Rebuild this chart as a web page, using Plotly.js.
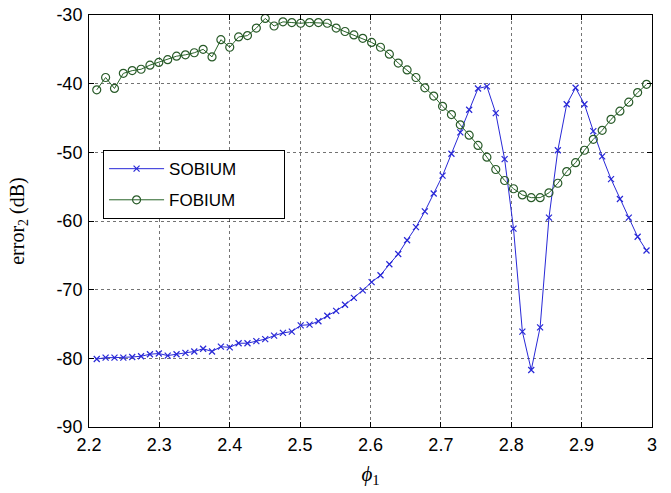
<!DOCTYPE html>
<html>
<head>
<meta charset="utf-8">
<script src="https://cdn.plot.ly/plotly-3.0.1.min.js"></script>
<style>html,body{margin:0;padding:0;background:#fff;}#chart{width:671px;height:493px;}</style>
</head>
<body>
<div id="chart"></div>
<script>
const phi = [2.2110,2.2236,2.2362,2.2488,2.2614,2.2740,2.2866,2.2992,2.3118,2.3244,
  2.3370,2.3496,2.3622,2.3748,2.3874,2.4000,2.4126,2.4252,2.4378,2.4504,
  2.4630,2.4756,2.4882,2.5008,2.5134,2.5260,2.5386,2.5512,2.5638,2.5764,
  2.5890,2.6016,2.6142,2.6268,2.6394,2.6520,2.6646,2.6772,2.6898,2.7024,
  2.7150,2.7276,2.7402,2.7528,2.7654,2.7780,2.7906,2.8032,2.8158,2.8284,
  2.8410,2.8536,2.8662,2.8788,2.8914,2.9040,2.9166,2.9292,2.9418,2.9544,
  2.9670,2.9796,2.9922];

const sobium = [-80.1,-79.9,-79.9,-79.9,-79.8,-79.7,-79.4,-79.3,-79.6,-79.4,
  -79.2,-79.0,-78.6,-79.0,-78.3,-78.4,-77.8,-77.8,-77.5,-77.2,
  -76.7,-76.3,-76.1,-75.2,-75.1,-74.6,-73.8,-73.1,-72.2,-71.2,
  -70.1,-68.9,-67.9,-66.3,-64.8,-62.8,-60.9,-58.6,-56.0,-53.4,
  -50.2,-47.1,-43.8,-40.7,-40.4,-44.3,-51.0,-61.1,-76.1,-81.7,
  -75.5,-59.5,-49.7,-43.0,-40.6,-43.0,-46.9,-50.6,-53.9,-56.8,
  -59.5,-62.3,-64.3];

const fobium = [-40.9,-39.1,-40.7,-38.5,-38.1,-37.9,-37.3,-36.9,-36.5,-36.0,
  -35.8,-35.5,-35.0,-36.1,-33.6,-34.7,-33.2,-33.0,-31.9,-30.5,
  -31.6,-31.0,-31.1,-31.2,-31.1,-31.1,-31.2,-31.9,-32.4,-32.9,
  -33.4,-34.0,-34.7,-35.7,-37.0,-38.0,-39.1,-40.6,-41.8,-43.3,
  -44.5,-46.0,-47.5,-49.0,-50.7,-52.5,-54.1,-55.3,-56.2,-56.6,
  -56.6,-55.9,-54.5,-52.8,-51.5,-49.7,-48.1,-46.8,-45.2,-44.0,
  -42.7,-41.3,-40.1];

const xTickVals = [2.2,2.3,2.4,2.5,2.6,2.7,2.8,2.9,3.0];
const xTickText = ["2.2","2.3","2.4","2.5","2.6","2.7","2.8","2.9","3"];
const yTickVals = [-90,-80,-70,-60,-50,-40,-30];
const yTickText = ["-90","-80","-70","-60","-50","-40","-30"];

const seriesNames = ["SOBIUM","FOBIUM"];

// trailing non-breaking spaces only widen the legend box (styling)
const pad = '\u00a0'.repeat(9);

const traces = [
  {
    x: phi, y: sobium, name: seriesNames[0] + pad, legendgroup: 'g1', type: 'scatter', mode: 'lines+markers',
    line: {color: 'rgb(40,40,215)', width: 1},
    marker: {symbol: 'x-thin-open', size: 6, color: 'rgb(40,40,215)', line: {width: 1.2, color: 'rgb(40,40,215)'}}
  },
  {
    x: phi, y: fobium, name: seriesNames[1] + pad, legendgroup: 'g2', type: 'scatter', mode: 'lines+markers',
    line: {color: 'rgb(40,100,40)', width: 1},
    marker: {symbol: 'circle-open', size: 8, color: 'rgb(40,90,40)', line: {width: 1.2}}
  }
];

const axisCommon = {
  showline: true, linecolor: '#000', linewidth: 1, mirror: 'ticks',
  ticks: 'inside', ticklen: 5, tickcolor: '#000',
  showgrid: true, gridcolor: 'rgba(0,0,0,0.55)', griddash: 'dot', gridwidth: 1,
  zeroline: false,
  tickfont: {family: 'Liberation Sans, Arial, sans-serif', size: 18, color: '#000'}
};

const layout = {
  width: 671, height: 493,
  margin: {l: 89, r: 19, t: 15, b: 66},
  paper_bgcolor: '#fff', plot_bgcolor: '#fff',
  showlegend: true,
  xaxis: Object.assign({}, axisCommon, {
    range: [2.2, 3.0], tickvals: xTickVals, ticktext: xTickText,
    ticklabelstandoff: 1,
    title: {text: '<i>ϕ</i><sub>1</sub>', font: {family: 'Liberation Serif, Times New Roman, serif', size: 21, color: '#000'}, standoff: 12}
  }),
  yaxis: Object.assign({}, axisCommon, {
    range: [-90, -30], tickvals: yTickVals, ticktext: yTickText,
    ticklabelstandoff: 2,
    title: {text: 'error<sub>2</sub> (dB)', font: {family: 'Liberation Serif, Times New Roman, serif', size: 20, color: '#000'}, standoff: 26}
  }),
  legend: {
    x: 0.025, y: 0.672, xanchor: 'left', yanchor: 'top',
    bgcolor: '#fff', bordercolor: '#000', borderwidth: 1,
    font: {family: 'Liberation Sans, Arial, sans-serif', size: 17, color: '#000'},
    itemwidth: 55, tracegroupgap: 6
  }
};

Plotly.newPlot('chart', traces, layout, {displayModeBar: false, staticPlot: true});
</script>
</body>
</html>
